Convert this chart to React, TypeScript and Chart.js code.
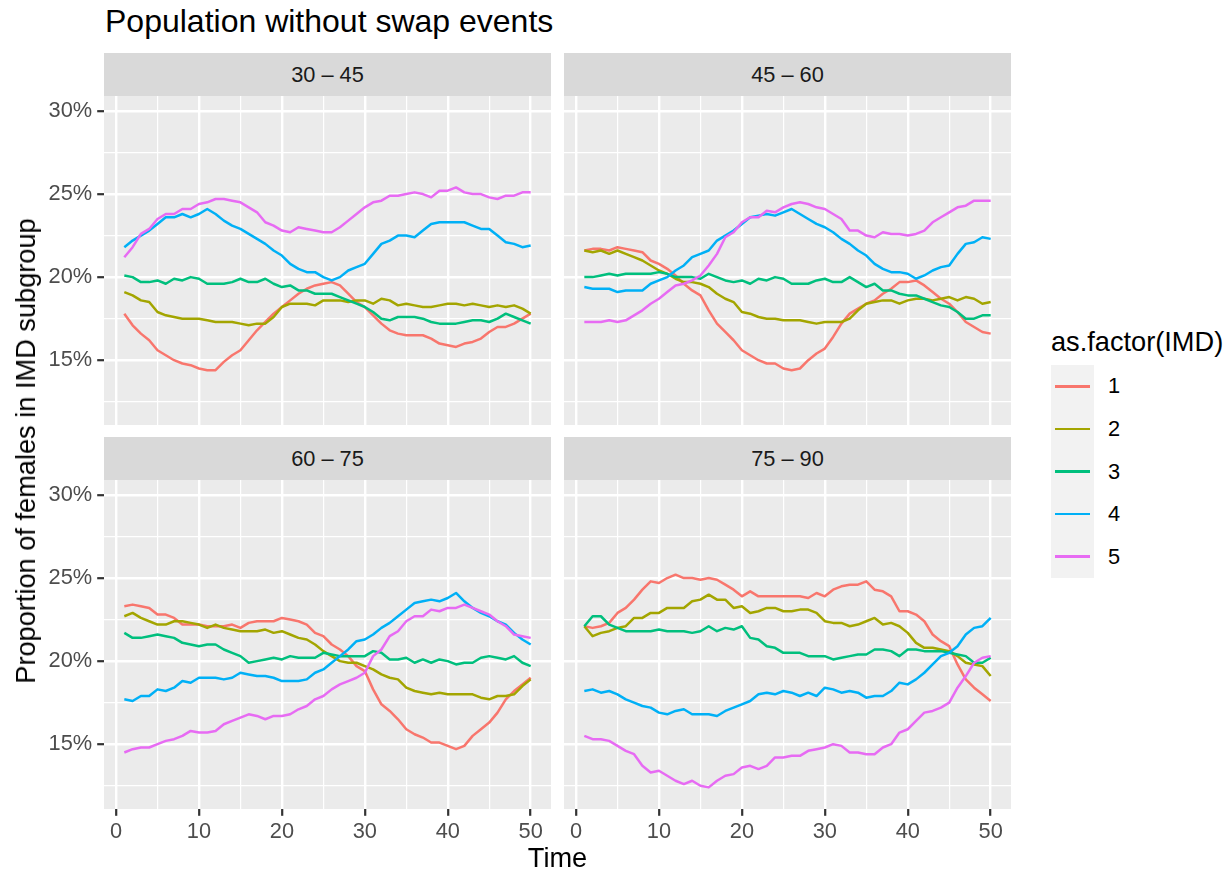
import React, { useEffect, useRef } from 'react';
import { Chart, registerables } from 'chart.js';

Chart.register(...registerables);

// ---------------- data ----------------
const TIME = [1, 2, 3, 4, 5, 6, 7, 8, 9, 10, 11, 12, 13, 14, 15, 16, 17, 18, 19, 20, 21, 22, 23, 24, 25,
  26, 27, 28, 29, 30, 31, 32, 33, 34, 35, 36, 37, 38, 39, 40, 41, 42, 43, 44, 45, 46, 47, 48, 49, 50];

const AGE_GROUPS = ['30 – 45', '45 – 60', '60 – 75', '75 – 90'];
const IMD_LEVELS = ['1', '2', '3', '4', '5'];
const X_TICKS = [0, 5, 10, 15, 20, 25, 30, 35, 40, 45, 50];
const X_LABELS = ['0', '', '10', '', '20', '', '30', '', '40', '', '50'];
const Y_TICKS = [12.5, 15, 17.5, 20, 22.5, 25, 27.5, 30];
const Y_LABELS = ['', '15%', '', '20%', '', '25%', '', '30%'];

// 30 – 45
const A1_IMD1 = [17.8, 17.1, 16.6, 16.2, 15.6, 15.3, 15.0, 14.8, 14.7, 14.5, 14.4, 14.4, 14.9, 15.3, 15.6, 16.2, 16.8, 17.3, 17.8, 18.2, 18.6, 19.0, 19.3, 19.5, 19.6,
  19.7, 19.5, 19.0, 18.5, 18.2, 17.7, 17.2, 16.8, 16.6, 16.5, 16.5, 16.5, 16.3, 16.0, 15.9, 15.8, 16.0, 16.1, 16.3, 16.7, 17.0, 17.0, 17.2, 17.5, 17.8];
const A1_IMD2 = [19.1, 18.9, 18.6, 18.5, 17.9, 17.7, 17.6, 17.5, 17.5, 17.5, 17.4, 17.3, 17.3, 17.3, 17.2, 17.1, 17.2, 17.2, 17.6, 18.2, 18.4, 18.4, 18.4, 18.3, 18.6,
  18.6, 18.6, 18.5, 18.6, 18.6, 18.4, 18.7, 18.6, 18.3, 18.4, 18.3, 18.2, 18.2, 18.3, 18.4, 18.4, 18.3, 18.4, 18.3, 18.2, 18.3, 18.2, 18.3, 18.1, 17.8];
const A1_IMD3 = [20.1, 20.0, 19.7, 19.7, 19.8, 19.6, 19.9, 19.8, 20.0, 19.9, 19.6, 19.6, 19.6, 19.7, 19.9, 19.7, 19.7, 19.9, 19.6, 19.4, 19.5, 19.2, 19.2, 19.0, 19.0,
  19.0, 18.8, 18.6, 18.4, 18.2, 17.9, 17.5, 17.4, 17.6, 17.6, 17.6, 17.5, 17.3, 17.2, 17.2, 17.2, 17.3, 17.4, 17.4, 17.3, 17.5, 17.8, 17.6, 17.4, 17.2];
const A1_IMD4 = [21.8, 22.2, 22.5, 22.8, 23.2, 23.6, 23.6, 23.8, 23.6, 23.8, 24.1, 23.8, 23.4, 23.1, 22.9, 22.6, 22.3, 22.0, 21.6, 21.3, 20.8, 20.5, 20.3, 20.3, 20.0,
  19.8, 20.0, 20.4, 20.6, 20.8, 21.4, 22.0, 22.2, 22.5, 22.5, 22.4, 22.8, 23.2, 23.3, 23.3, 23.3, 23.3, 23.1, 22.9, 22.9, 22.5, 22.1, 22.0, 21.8, 21.9];
const A1_IMD5 = [21.2, 21.8, 22.6, 22.9, 23.5, 23.8, 23.8, 24.1, 24.1, 24.4, 24.5, 24.7, 24.7, 24.6, 24.5, 24.2, 23.9, 23.3, 23.1, 22.8, 22.7, 23.0, 22.9, 22.8, 22.7,
  22.7, 23.0, 23.4, 23.8, 24.2, 24.5, 24.6, 24.9, 24.9, 25.0, 25.1, 25.0, 24.8, 25.2, 25.2, 25.4, 25.1, 25.0, 25.0, 24.8, 24.7, 24.9, 24.9, 25.1, 25.1];

// 45 – 60
const A2_IMD1 = [21.6, 21.7, 21.7, 21.6, 21.8, 21.7, 21.6, 21.5, 21.0, 20.8, 20.5, 20.1, 19.6, 19.2, 18.9, 18.0, 17.2, 16.7, 16.2, 15.6, 15.3, 15.0, 14.8, 14.8, 14.5,
  14.4, 14.5, 15.0, 15.4, 15.7, 16.4, 17.2, 17.8, 18.1, 18.4, 18.6, 19.0, 19.3, 19.7, 19.7, 19.8, 19.5, 19.1, 18.7, 18.4, 17.9, 17.3, 17.0, 16.7, 16.6];
const A2_IMD2 = [21.6, 21.5, 21.6, 21.4, 21.6, 21.4, 21.2, 21.0, 20.7, 20.4, 20.2, 19.9, 19.7, 19.7, 19.6, 19.4, 19.0, 18.7, 18.5, 17.9, 17.8, 17.6, 17.5, 17.5, 17.4,
  17.4, 17.4, 17.3, 17.2, 17.3, 17.3, 17.3, 17.5, 18.0, 18.4, 18.5, 18.6, 18.6, 18.4, 18.6, 18.7, 18.7, 18.6, 18.7, 18.8, 18.6, 18.8, 18.7, 18.4, 18.5];
const A2_IMD3 = [20.0, 20.0, 20.1, 20.2, 20.1, 20.2, 20.2, 20.2, 20.2, 20.3, 20.2, 20.0, 20.0, 20.0, 19.9, 20.2, 20.0, 19.8, 19.7, 19.8, 19.6, 19.9, 19.8, 20.0, 19.9,
  19.6, 19.6, 19.6, 19.8, 19.9, 19.7, 19.7, 20.0, 19.7, 19.4, 19.6, 19.2, 19.2, 19.0, 18.9, 18.9, 18.7, 18.5, 18.3, 18.2, 17.9, 17.5, 17.5, 17.7, 17.7];
const A2_IMD4 = [19.4, 19.3, 19.3, 19.3, 19.1, 19.2, 19.2, 19.2, 19.6, 19.8, 20.0, 20.4, 20.7, 21.2, 21.4, 21.6, 22.2, 22.5, 22.8, 23.2, 23.6, 23.7, 23.8, 23.7, 23.9,
  24.1, 23.8, 23.5, 23.2, 23.0, 22.7, 22.3, 22.0, 21.6, 21.3, 20.8, 20.5, 20.3, 20.3, 20.2, 19.9, 20.1, 20.4, 20.6, 20.7, 21.4, 22.0, 22.1, 22.4, 22.3];
const A2_IMD5 = [17.3, 17.3, 17.3, 17.4, 17.3, 17.4, 17.7, 18.0, 18.4, 18.7, 19.1, 19.5, 19.6, 19.8, 20.1, 20.7, 21.4, 22.4, 22.7, 23.3, 23.6, 23.6, 24.0, 23.9, 24.2,
  24.4, 24.5, 24.4, 24.2, 24.1, 23.8, 23.5, 22.8, 22.8, 22.5, 22.4, 22.7, 22.6, 22.6, 22.5, 22.6, 22.8, 23.3, 23.6, 23.9, 24.2, 24.3, 24.6, 24.6, 24.6];

// 60 – 75
const A3_IMD1 = [23.3, 23.4, 23.3, 23.2, 22.8, 22.8, 22.6, 22.2, 22.2, 22.2, 22.1, 22.1, 22.1, 22.2, 22.0, 22.3, 22.4, 22.4, 22.4, 22.6, 22.5, 22.4, 22.2, 21.7, 21.5,
  21.0, 20.7, 20.3, 19.7, 19.4, 18.3, 17.4, 17.0, 16.5, 15.9, 15.6, 15.4, 15.1, 15.1, 14.9, 14.7, 14.9, 15.5, 15.9, 16.3, 16.9, 17.7, 18.2, 18.6, 19.0];
const A3_IMD2 = [22.7, 22.9, 22.6, 22.4, 22.2, 22.2, 22.4, 22.4, 22.3, 22.2, 22.0, 22.2, 22.0, 21.9, 21.8, 21.8, 21.8, 21.9, 21.7, 21.8, 21.6, 21.4, 21.3, 21.0, 20.6,
  20.3, 20.0, 19.9, 19.9, 19.7, 19.5, 19.2, 19.0, 18.9, 18.4, 18.2, 18.1, 18.0, 18.1, 18.0, 18.0, 18.0, 18.0, 17.8, 17.7, 17.9, 17.9, 18.0, 18.5, 18.9];
const A3_IMD3 = [21.7, 21.4, 21.4, 21.5, 21.6, 21.5, 21.4, 21.1, 21.0, 20.9, 21.0, 21.0, 20.7, 20.5, 20.3, 19.9, 20.0, 20.1, 20.2, 20.1, 20.3, 20.2, 20.2, 20.2, 20.5,
  20.4, 20.3, 20.3, 20.3, 20.3, 20.6, 20.5, 20.1, 20.1, 20.2, 19.9, 20.1, 19.9, 20.1, 20.0, 19.8, 19.9, 19.9, 20.2, 20.3, 20.2, 20.1, 20.3, 19.9, 19.7];
const A3_IMD4 = [17.7, 17.6, 17.9, 17.9, 18.3, 18.2, 18.4, 18.8, 18.7, 19.0, 19.0, 19.0, 18.9, 19.0, 19.3, 19.2, 19.1, 19.1, 19.0, 18.8, 18.8, 18.8, 18.9, 19.3, 19.5,
  19.9, 20.3, 20.7, 21.2, 21.3, 21.6, 22.0, 22.3, 22.7, 23.1, 23.5, 23.6, 23.7, 23.6, 23.8, 24.1, 23.6, 23.2, 22.9, 22.7, 22.4, 22.2, 21.7, 21.3, 21.0];
const A3_IMD5 = [14.5, 14.7, 14.8, 14.8, 15.0, 15.2, 15.3, 15.5, 15.8, 15.7, 15.7, 15.8, 16.2, 16.4, 16.6, 16.8, 16.7, 16.5, 16.7, 16.7, 16.8, 17.1, 17.3, 17.7, 17.9,
  18.3, 18.6, 18.8, 19.0, 19.3, 20.3, 20.7, 21.5, 21.8, 22.4, 22.7, 22.7, 23.1, 23.0, 23.2, 23.2, 23.4, 23.2, 23.0, 22.8, 22.4, 22.1, 21.6, 21.5, 21.4];

// 75 – 90
const A4_IMD1 = [22.1, 22.0, 22.1, 22.3, 22.9, 23.2, 23.7, 24.3, 24.8, 24.7, 25.0, 25.2, 25.0, 25.0, 24.9, 25.0, 24.9, 24.6, 24.3, 23.9, 24.2, 23.9, 23.9, 23.9, 23.9,
  23.9, 23.9, 23.8, 24.1, 23.9, 24.3, 24.5, 24.6, 24.6, 24.8, 24.3, 24.2, 23.9, 23.0, 23.0, 22.8, 22.4, 21.6, 21.2, 20.9, 19.8, 18.9, 18.4, 18.0, 17.6];
const A4_IMD2 = [22.1, 21.5, 21.7, 21.8, 22.0, 22.1, 22.6, 22.6, 22.9, 22.9, 23.2, 23.2, 23.2, 23.6, 23.7, 24.0, 23.7, 23.7, 23.2, 23.3, 22.9, 23.0, 23.2, 23.2, 23.0,
  23.0, 23.1, 23.1, 22.9, 22.4, 22.3, 22.3, 22.1, 22.2, 22.4, 22.6, 22.2, 22.3, 22.1, 21.7, 21.1, 20.8, 20.8, 20.7, 20.6, 20.3, 19.9, 19.8, 19.7, 19.1];
const A4_IMD3 = [22.1, 22.7, 22.7, 22.2, 22.0, 21.8, 21.8, 21.8, 21.8, 21.9, 21.8, 21.8, 21.8, 21.7, 21.8, 22.1, 21.8, 22.0, 21.9, 22.1, 21.4, 21.3, 20.9, 20.8, 20.5,
  20.5, 20.5, 20.3, 20.3, 20.3, 20.1, 20.2, 20.3, 20.4, 20.4, 20.7, 20.7, 20.6, 20.3, 20.7, 20.7, 20.6, 20.6, 20.6, 20.5, 20.4, 20.3, 19.9, 19.9, 20.2];
const A4_IMD4 = [18.2, 18.3, 18.1, 18.2, 18.0, 17.7, 17.5, 17.3, 17.2, 16.9, 16.8, 17.0, 17.1, 16.8, 16.8, 16.8, 16.7, 17.0, 17.2, 17.4, 17.6, 18.0, 18.1, 18.0, 18.2,
  18.1, 17.9, 18.1, 17.9, 18.4, 18.3, 18.1, 18.2, 18.1, 17.8, 17.9, 17.9, 18.2, 18.7, 18.6, 18.9, 19.3, 19.8, 20.3, 20.5, 20.9, 21.6, 22.0, 22.1, 22.6];
const A4_IMD5 = [15.5, 15.3, 15.3, 15.2, 14.9, 14.6, 14.4, 13.7, 13.3, 13.4, 13.1, 12.8, 12.6, 12.8, 12.5, 12.4, 12.8, 13.1, 13.2, 13.6, 13.7, 13.5, 13.7, 14.2, 14.2,
  14.3, 14.3, 14.6, 14.7, 14.8, 15.0, 14.9, 14.5, 14.5, 14.4, 14.4, 14.8, 15.0, 15.7, 15.9, 16.4, 16.9, 17.0, 17.2, 17.5, 18.4, 19.1, 19.9, 20.2, 20.3];

const PANEL_SERIES = [
  [A1_IMD1, A1_IMD2, A1_IMD3, A1_IMD4, A1_IMD5],
  [A2_IMD1, A2_IMD2, A2_IMD3, A2_IMD4, A2_IMD5],
  [A3_IMD1, A3_IMD2, A3_IMD3, A3_IMD4, A3_IMD5],
  [A4_IMD1, A4_IMD2, A4_IMD3, A4_IMD4, A4_IMD5],
];

// ---------------- styles ----------------
const COLORS = ['#F8766D', '#A3A500', '#00BF7D', '#00B0F6', '#E76BF3'];
const FONT = '"Liberation Sans", Arial, Helvetica, sans-serif';
const TICK_SIZE = 21.8;
const AXIS_TITLE_SIZE = 27.2;
const X_MIN = -1.45;
const X_MAX = 52.45;
const Y_MIN = 11.1;
const Y_MAX = 30.9;
const PANEL_W = 447;
const PANEL_H = 329;
const Y_AXIS_W = 104;
const X_AXIS_H = 44;

const LAYOUT = [
  { left: 0, top: 96, showX: false, showY: true, stripLeft: 104, stripTop: 53 },
  { left: 564, top: 96, showX: false, showY: false, stripLeft: 564, stripTop: 53 },
  { left: 0, top: 480, showX: true, showY: true, stripLeft: 104, stripTop: 437 },
  { left: 564, top: 480, showX: true, showY: false, stripLeft: 564, stripTop: 437 },
];

function Panel({ series, showX, showY, left, top }: any) {
  const ref = useRef<HTMLCanvasElement>(null);
  const width = PANEL_W + (showY ? Y_AXIS_W : 0);
  const height = PANEL_H + (showX ? X_AXIS_H : 0);
  useEffect(() => {
    const chart = new Chart(ref.current as HTMLCanvasElement, {
      type: 'line',
      data: {
        datasets: series.map((vals: number[], i: number) => ({
          label: IMD_LEVELS[i],
          data: vals.map((v, j) => ({ x: TIME[j], y: v })),
          borderColor: COLORS[i],
          backgroundColor: COLORS[i],
          borderWidth: 2.5,
          pointRadius: 0,
          tension: 0,
          fill: false,
          order: IMD_LEVELS.length - i,
          borderJoinStyle: 'round',
          borderCapStyle: 'butt',
        })),
      },
      options: {
        animation: false,
        responsive: false,
        devicePixelRatio: 1,
        events: [],
        layout: { padding: 0 },
        plugins: { legend: { display: false }, tooltip: { enabled: false }, title: { display: false } },
        scales: {
          x: {
            type: 'linear',
            min: X_MIN,
            max: X_MAX,
            afterBuildTicks: (s: any) => { s.ticks = X_TICKS.map((v) => ({ value: v })); },
            afterFit: (s: any) => {
              s.height = showX ? X_AXIS_H : 0;
              s.paddingLeft = 0; s.paddingRight = 0; s.paddingTop = 0; s.paddingBottom = 0;
            },
            border: { display: false },
            grid: {
              color: '#FFFFFF',
              lineWidth: (ctx: any) => (ctx.tick && X_LABELS[X_TICKS.indexOf(ctx.tick.value)] !== '' ? 2.4 : 1.2),
              drawTicks: showX,
              tickLength: 6.8,
              tickWidth: 2.2,
              tickColor: (ctx: any) => (ctx.tick && X_LABELS[X_TICKS.indexOf(ctx.tick.value)] !== '' ? '#333333' : 'rgba(0,0,0,0)'),
            },
            ticks: {
              display: showX,
              autoSkip: false,
              maxRotation: 0,
              minRotation: 0,
              padding: 3,
              color: '#4D4D4D',
              font: { family: FONT, size: TICK_SIZE },
              callback: (v: any) => X_LABELS[X_TICKS.indexOf(Number(v))] ?? '',
            },
          },
          y: {
            type: 'linear',
            min: Y_MIN,
            max: Y_MAX,
            afterBuildTicks: (s: any) => { s.ticks = Y_TICKS.map((v) => ({ value: v })); },
            afterFit: (s: any) => {
              s.width = showY ? Y_AXIS_W : 0;
              s.paddingLeft = 0; s.paddingRight = 0; s.paddingTop = 0; s.paddingBottom = 0;
            },
            border: { display: false },
            grid: {
              color: '#FFFFFF',
              lineWidth: (ctx: any) => (ctx.tick && Y_LABELS[Y_TICKS.indexOf(ctx.tick.value)] !== '' ? 2.4 : 1.2),
              drawTicks: showY,
              tickLength: 6.8,
              tickWidth: 2.2,
              tickColor: (ctx: any) => (ctx.tick && Y_LABELS[Y_TICKS.indexOf(ctx.tick.value)] !== '' ? '#333333' : 'rgba(0,0,0,0)'),
            },
            ticks: {
              display: showY,
              autoSkip: false,
              padding: 5,
              color: '#4D4D4D',
              font: { family: FONT, size: TICK_SIZE },
              callback: (v: any) => Y_LABELS[Y_TICKS.indexOf(Number(v))] ?? '',
            },
          },
        },
      },
      plugins: [
        {
          id: 'panelBg',
          beforeDraw: (c: any) => {
            const { ctx, chartArea } = c;
            ctx.save();
            ctx.fillStyle = '#EBEBEB';
            ctx.fillRect(chartArea.left, chartArea.top, chartArea.right - chartArea.left, chartArea.bottom - chartArea.top);
            ctx.restore();
          },
        },
      ],
    } as any);
    return () => chart.destroy();
  }, []);
  return (
    <canvas
      ref={ref}
      width={width}
      height={height}
      style={{ position: 'absolute', left, top, width, height, display: 'block' }}
    />
  );
}

export default function App() {
  return (
    <div
      style={{
        position: 'absolute', left: 0, top: 0, width: 1231, height: 874,
        background: '#FFFFFF', overflow: 'hidden', fontFamily: FONT,
      }}
    >
      <div style={{ position: 'absolute', left: 105, top: 5, fontSize: 32, lineHeight: '32px', color: '#000', whiteSpace: 'nowrap' }}>
        Population without swap events
      </div>

      {LAYOUT.map((l, i) => (
        <div
          key={'strip' + i}
          style={{
            position: 'absolute', left: l.stripLeft, top: l.stripTop, width: PANEL_W, height: 43,
            background: '#D9D9D9', color: '#1A1A1A', fontSize: TICK_SIZE,
            display: 'flex', alignItems: 'center', justifyContent: 'center',
          }}
        >
          {AGE_GROUPS[i]}
        </div>
      ))}

      {LAYOUT.map((l, i) => (
        <Panel key={'p' + i} series={PANEL_SERIES[i]} showX={l.showX} showY={l.showY} left={l.left} top={l.top} />
      ))}

      <div
        style={{
          position: 'absolute', left: 26, top: 451, transform: 'translate(-50%, -50%) rotate(-90deg)',
          fontSize: AXIS_TITLE_SIZE, lineHeight: '28px', whiteSpace: 'nowrap', color: '#000',
        }}
      >
        Proportion of females in IMD subgroup
      </div>

      <div
        style={{
          position: 'absolute', left: 557.5, top: 858, transform: 'translate(-50%, -50%)',
          fontSize: AXIS_TITLE_SIZE, lineHeight: '28px', whiteSpace: 'nowrap', color: '#000',
        }}
      >
        Time
      </div>

      {/* legend */}
      <div
        style={{
          position: 'absolute', left: 1051, top: 341.5, transform: 'translateY(-50%)',
          fontSize: AXIS_TITLE_SIZE, lineHeight: '28px', whiteSpace: 'nowrap', color: '#000',
        }}
      >
        as.factor(IMD)
      </div>
      <div style={{ position: 'absolute', left: 1051, top: 365, width: 43, height: 213, background: '#F2F2F2' }} />
      {IMD_LEVELS.map((lab, i) => (
        <React.Fragment key={'lg' + i}>
          <div
            style={{
              position: 'absolute', left: 1055, top: 386.3 + 42.6 * i - 1.25, width: 35, height: 2.5,
              background: COLORS[i],
            }}
          />
          <div
            style={{
              position: 'absolute', left: 1108, top: 386.3 + 42.6 * i, transform: 'translateY(-50%)',
              fontSize: TICK_SIZE, lineHeight: '22px', color: '#000',
            }}
          >
            {lab}
          </div>
        </React.Fragment>
      ))}
    </div>
  );
}
